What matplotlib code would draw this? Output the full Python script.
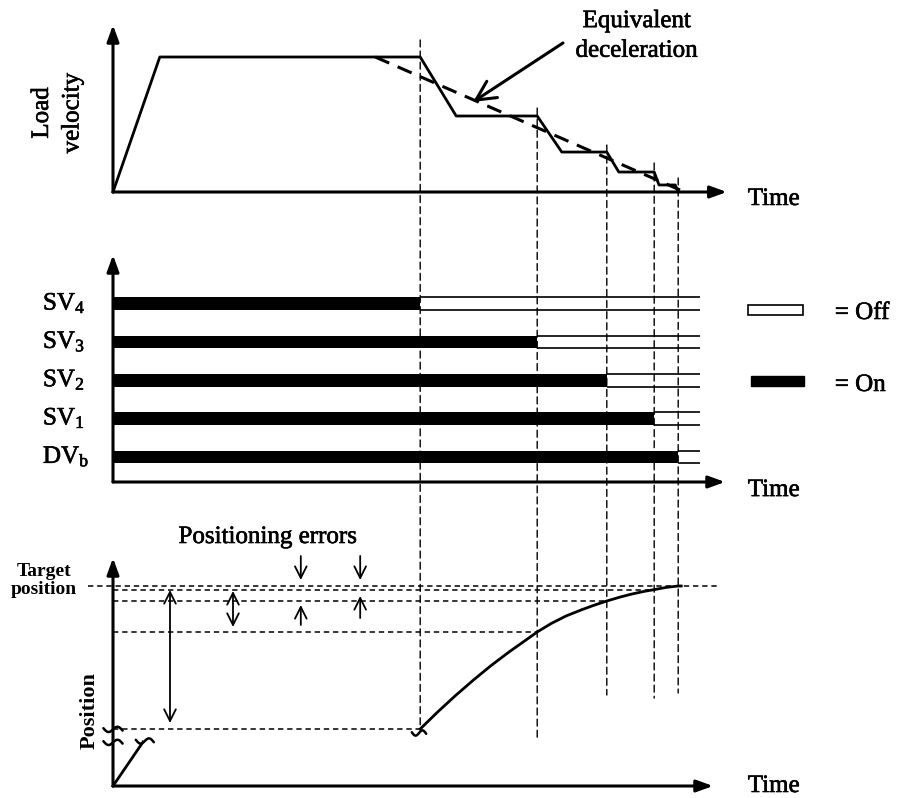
import matplotlib
matplotlib.use('Agg')
import matplotlib.pyplot as plt
from matplotlib.patches import ConnectionPatch, Rectangle
import matplotlib.patheffects as pe
import numpy as np

plt.rcParams['font.family'] = ['Liberation Serif', 'DejaVu Serif']
plt.rcParams['mathtext.fontset'] = 'custom'
plt.rcParams['mathtext.rm'] = 'Liberation Serif'
plt.rcParams['mathtext.it'] = 'Liberation Serif:italic'
plt.rcParams['mathtext.bf'] = 'Liberation Serif:bold'

# ---------------- data ----------------
valve_labels = ['$\\mathrm{SV}_\\mathrm{4}$', '$\\mathrm{SV}_\\mathrm{3}$', '$\\mathrm{SV}_\\mathrm{2}$',
                '$\\mathrm{SV}_\\mathrm{1}$', '$\\mathrm{DV}_\\mathrm{b}$']
valve_rows = [5, 4, 3, 2, 1]
t_off = [51.2, 70.7, 82.3, 90.2, 94.2]          # switch-off time of each valve
t_lines_end = 97.8

vel_t = [0, 7.8, 51.2, 57.2, 70.7, 74.8, 82.3, 84.3, 90.2, 91.0, 93.7, 94.2]
vel_v = [0, 100, 100, 56.3, 56.3, 29.6, 29.6, 14.8, 14.8, 5.2, 5.2, 0]
equiv_t = [43.7, 94.5]
equiv_v = [100, 1.5]

pos_t = [51.2, 54.0, 57.0, 60.0, 63.0, 66.0, 68.5, 70.7, 73.0, 75.5, 78.0, 80.0, 82.3,
         84.5, 86.5, 88.5, 90.2, 92.2, 94.2, 94.7]
pos_p = [28.5, 36.7, 45.0, 52.8, 60.2, 67.0, 72.3, 77.0, 81.2, 85.0, 88.0, 90.2, 92.5,
         94.45, 96.0, 97.3, 98.2, 99.3, 100.0, 100.0]
pos_init_t = [0, 5.0]
pos_init_p = [0, 22.0]
target_p = 100.0
level_p = [98.2, 92.5, 77.0, 28.5]             # position at each switching event
level_t = [90.2, 82.3, 70.7, 51.2]

# vertical guide lines: start in velocity panel, end in position panel
guide_v_start = [112.6, 62.2, 34.8, 21.5, 10.4]
guide_p_end = [28.5, 24.0, 45.5, 44.0, 46.5]

# ---------------- figure ----------------
W, H = 905, 798
fig = plt.figure(figsize=(W / 100, H / 100), dpi=100)
heavy = [pe.withStroke(linewidth=0.45, foreground='black')]


def add_ax(x0, x1, ytop, ybot):
    ax = fig.add_axes([x0 / W, 1 - ybot / H, (x1 - x0) / W, (ybot - ytop) / H])
    ax.axis('off')
    return ax


ax1 = add_ax(113, 728, 25, 192)
ax1.set_xlim(0, 102.5); ax1.set_ylim(0, 123.7)
ax2 = add_ax(113, 728, 255, 482)
ax2.set_xlim(0, 102.5); ax2.set_ylim(0.347, 6.274)
ax3 = add_ax(113, 728, 558, 786)
ax3.set_xlim(0, 102.5); ax3.set_ylim(0, 114)

FS = 18
axis_arrow = dict(arrowstyle='-|>,head_length=0.55,head_width=0.2', lw=2.2, color='black',
                  mutation_scale=18, shrinkA=0, shrinkB=0)


def txt(ax, x, y, s, **kw):
    kw.setdefault('fontsize', FS)
    return ax.text(x, y, s, path_effects=heavy, **kw)


def draw_axes(ax, x_end, y0, y_end):
    ax.annotate('', xy=(x_end, y0), xytext=(0, y0), arrowprops=axis_arrow, annotation_clip=False)
    ax.annotate('', xy=(0, y_end), xytext=(0, y0), arrowprops=axis_arrow, annotation_clip=False)


def squiggle(ax, t, y, sx, sy, tilt=0.0, lw=1.8):
    s = np.linspace(-1, 1, 40)
    ax.plot(t + sx * s, y + sy * np.sin(np.pi * s) + tilt * s, color='black', lw=lw,
            clip_on=False, solid_capstyle='round')


# ---- top panel: load velocity ----
draw_axes(ax1, 102.3, 0, 123.7)
ax1.plot(vel_t, vel_v, color='black', lw=2.0, clip_on=False)
ax1.plot(equiv_t, equiv_v, color='black', lw=2.2, ls=(0, (5, 3)), clip_on=False)
ax1.annotate('', xy=(60.0, 66.7), xytext=(75.0, 110.4),
             arrowprops=dict(arrowstyle='->,head_length=0.7,head_width=0.35', lw=2.2,
                             color='black', mutation_scale=20, shrinkA=0, shrinkB=0),
             annotation_clip=False)
txt(ax1, 87.3, 115.6, 'Equivalent\ndeceleration', ha='center', va='center', linespacing=1.45)
txt(ax1, 105.8, -9.6, 'Time', ha='left', va='baseline')
txt(ax1, -9.3, 58.5, 'Load\nvelocity', ha='center', va='center', rotation=90,
    linespacing=1.5, multialignment='center')

# ---- middle panel: valve states ----
draw_axes(ax2, 102.0, 0.347, 6.274)
bar_h = 0.33
ax2.barh(valve_rows, t_off, left=0, height=bar_h, color='black', edgecolor='none')
for row, t0, lab in zip(valve_rows, t_off, valve_labels):
    ax2.hlines([row - bar_h / 2, row + bar_h / 2], t0, t_lines_end, color='black', lw=1.2,
               clip_on=False)
    txt(ax2, -11.67, row + 0.02, lab, ha='left', va='center')
txt(ax2, 105.8, -0.02, 'Time', ha='left', va='baseline')
ax2.add_patch(Rectangle((105.8, 4.84 - 0.13), 9.2, 0.26, facecolor='white', edgecolor='black',
                        lw=1.2, clip_on=False))
ax2.add_patch(Rectangle((106.3, 2.98 - 0.13), 8.9, 0.26, facecolor='black', edgecolor='black',
                        lw=1.0, clip_on=False))
txt(ax2, 120.3, 4.76, '= Off', ha='left', va='center')
txt(ax2, 120.3, 2.88, '= On', ha='left', va='center')

# ---- bottom panel: position ----
draw_axes(ax3, 100.0, 0, 114)
hd = (0, (3.5, 2.5))
ax3.plot([-4.2, 100.8], [target_p, target_p], color='black', lw=1.1, ls=hd, clip_on=False)
for p, t in zip(level_p, level_t):
    ax3.plot([0, t], [p, p], color='black', lw=1.1, ls=hd, clip_on=False)
ax3.plot(pos_t, pos_p, color='black', lw=2.0, clip_on=False, solid_joinstyle='round')
ax3.plot(pos_init_t, pos_init_p, color='black', lw=2.0, clip_on=False)
# break marks
squiggle(ax3, 0.0, 28.3, 1.6, 1.6, tilt=-0.6)
squiggle(ax3, 0.0, 21.8, 1.6, 1.6, tilt=-0.6)
squiggle(ax3, 5.3, 22.5, 1.5, 1.6, tilt=-0.6)
squiggle(ax3, 51.0, 26.5, 1.2, 1.5, tilt=-0.4)

thin = dict(lw=1.3, color='black', mutation_scale=12, shrinkA=0, shrinkB=0)
ax3.annotate('', xy=(9.5, 98.0), xytext=(9.5, 31.5),
             arrowprops=dict(arrowstyle='<->,head_length=0.7,head_width=0.35', **thin))
ax3.annotate('', xy=(20.0, 97.5), xytext=(20.0, 79.5),
             arrowprops=dict(arrowstyle='<->,head_length=0.7,head_width=0.35', **thin))
for t, up_tail, up_tip in [(31.3, 80.5, 90.5), (41.2, 84.0, 95.0)]:
    ax3.annotate('', xy=(t, 103.0), xytext=(t, 115.0),
                 arrowprops=dict(arrowstyle='->,head_length=0.7,head_width=0.35', **thin),
                 annotation_clip=False)
    ax3.annotate('', xy=(t, up_tip), xytext=(t, up_tail),
                 arrowprops=dict(arrowstyle='->,head_length=0.7,head_width=0.35', **thin))
txt(ax3, 25.8, 124.5, 'Positioning errors', ha='center', va='center')
ax3.text(-11.5, 105.0, 'Target', ha='center', va='baseline', fontsize=14, fontweight='bold')
ax3.text(-11.5, 96.0, 'position', ha='center', va='baseline', fontsize=14, fontweight='bold')
ax3.text(-3.9, 37.5, 'Position', ha='center', va='center', rotation=90, fontsize=16,
         fontweight='bold')
txt(ax3, 105.8, -3.0, 'Time', ha='left', va='baseline')

# ---- vertical guide lines across panels ----
for t, v0, p1 in zip(t_off, guide_v_start, guide_p_end):
    con = ConnectionPatch(xyA=(t, v0), coordsA=ax1.transData, xyB=(t, p1), coordsB=ax3.transData,
                          color='black', lw=1.0, linestyle=(0, (5, 3)))
    fig.add_artist(con)

fig.savefig('out.png', dpi=100)
